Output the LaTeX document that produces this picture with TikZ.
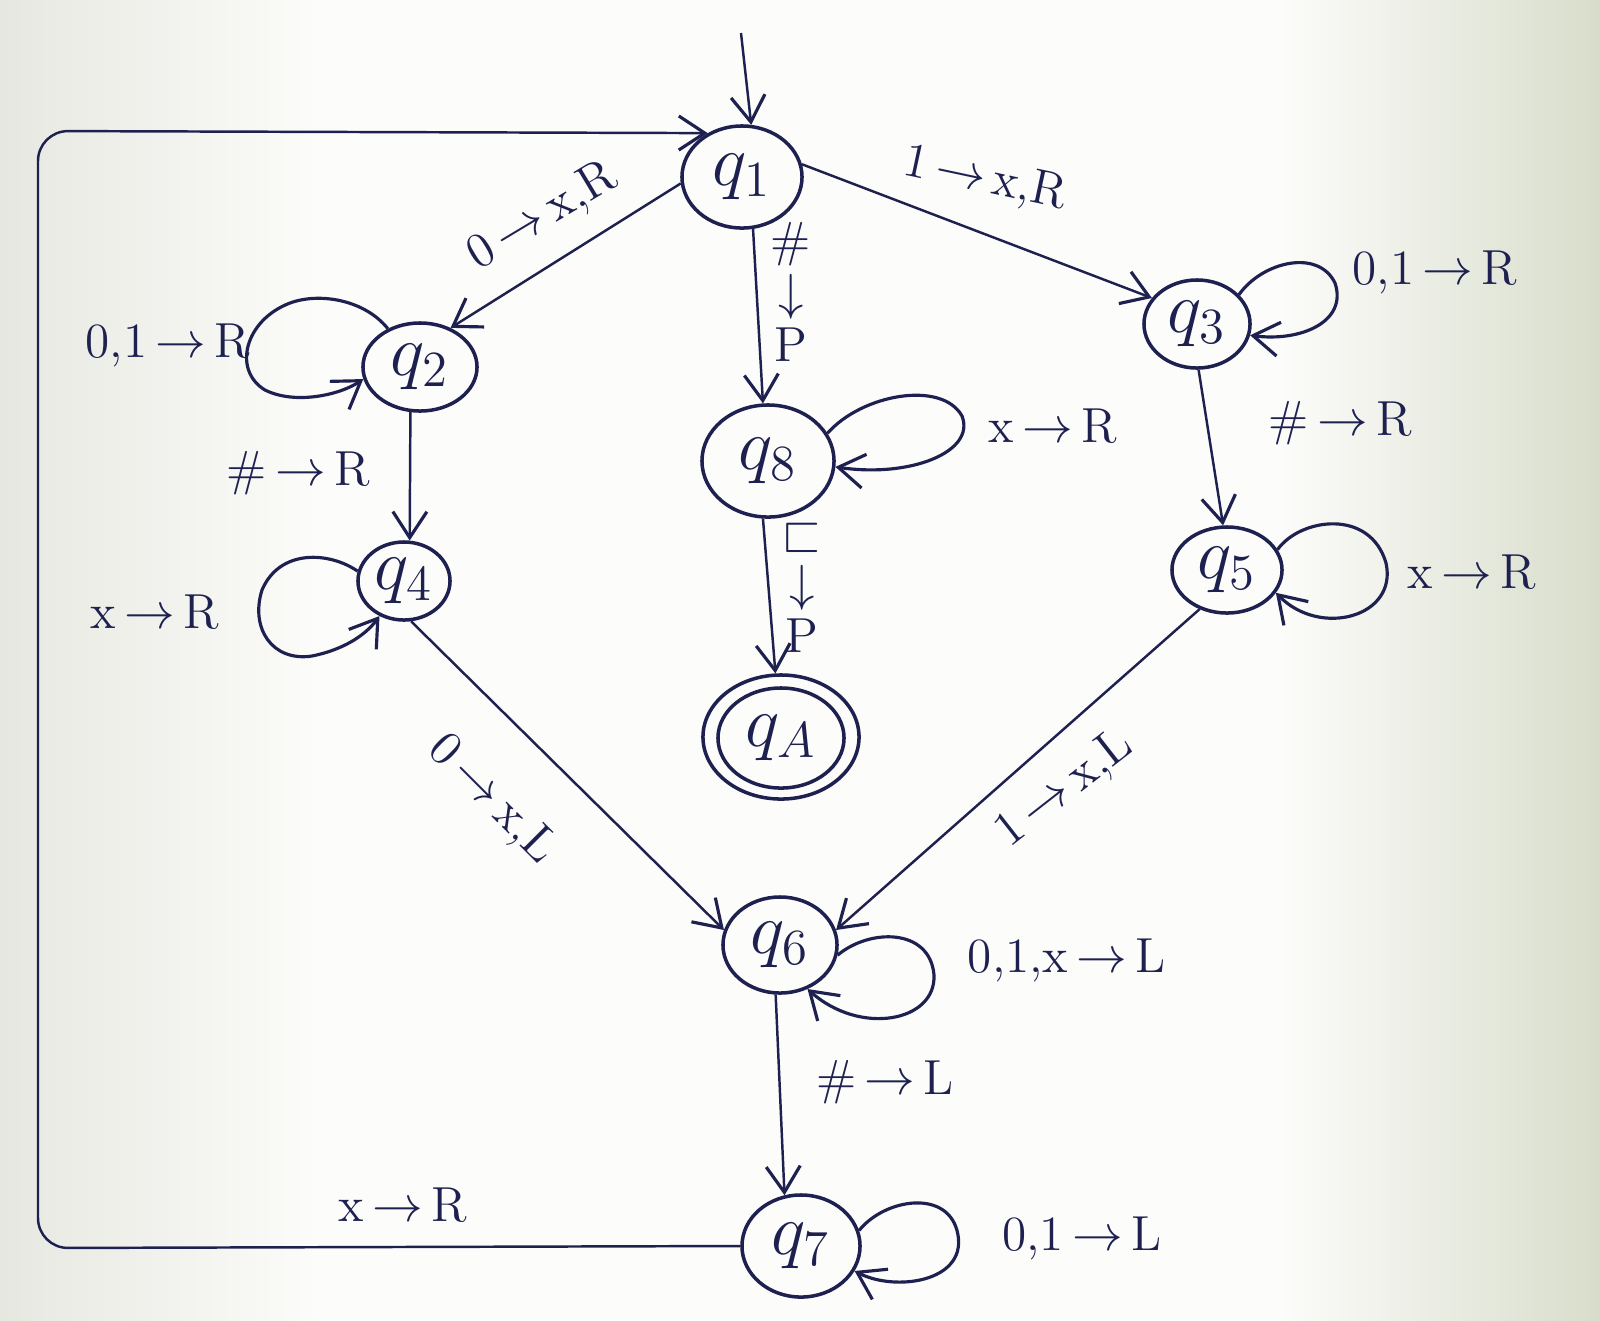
\documentclass[tikz,border=0pt]{standalone}
\usepackage{amssymb}
\usetikzlibrary{arrows.meta,shapes.geometric}
\definecolor{ink}{HTML}{1E2150}
\definecolor{paperL}{HTML}{E6E8E0}
\definecolor{paperM}{HTML}{FCFCFA}
\definecolor{paperR}{HTML}{D8DDCB}
\begin{document}
\begin{tikzpicture}[x=0.01cm,y=-0.01cm,
  state/.style={ellipse, draw=ink, line width=1pt, inner sep=0pt,
    font=\fontsize{20}{22}\selectfont, text=ink},
  edge/.style={draw=ink, line width=0.7pt,
    -{Straight Barb[length=2.6mm,width=3.4mm,line width=0.9pt]}},
  loopedge/.style={edge, line width=0.9pt},
  lab/.style={text=ink, font=\fontsize{14}{16}\selectfont, inner sep=1pt},
  stacklab/.style={text=ink, font=\fontsize{14}{13}\selectfont, inner sep=1pt, align=center}]

% paper: white in the middle, greyer towards both edges
\fill[paperM] (0,0) rectangle (1600,1320);
\shade[left color=paperL, right color=paperM] (0,0) rectangle (320,1320);
\shade[left color=paperM, right color=paperR] (1280,0) rectangle (1600,1320);
\useasboundingbox (0,0) rectangle (1600,1320);

% states
\node[state, minimum width=1.20cm, minimum height=1.02cm] (q1) at (742,177) {$q_1$};
\node[state, minimum width=1.14cm, minimum height=0.88cm] (q2) at (420,367) {$q_2$};
\node[state, minimum width=1.06cm, minimum height=0.88cm] (q3) at (1197,324) {$q_3$};
\node[state, minimum width=1.32cm, minimum height=1.12cm] (q8) at (768,461) {$q_8$};
\node[state, minimum width=0.92cm, minimum height=0.78cm] (q4) at (404,581) {$q_4$};
\node[state, minimum width=1.10cm, minimum height=0.86cm] (q5) at (1227,570) {$q_5$};
\node[state, minimum width=1.56cm, minimum height=1.24cm] (qA) at (781,737) {};
\node[state, minimum width=1.26cm, minimum height=1.00cm] (qAin) at (781,738) {$q_A$};
\node[state, minimum width=1.14cm, minimum height=0.96cm] (q6) at (780,945) {$q_6$};
\node[state, minimum width=1.18cm, minimum height=1.02cm] (q7) at (801,1246) {$q_7$};

% start arrow and the return path round the left
\coordinate (start) at (741,33);
\coordinate (bl) at (38,1248);
\coordinate (tl) at (38,131);
\draw[edge] (start) -- (q1.80);
\draw[edge, rounded corners=0.3cm] (q7.west) -- (bl) -- (tl) -- (q1.128);

% straight transitions
\draw[edge] (q1.186) -- (q2.52);
\draw[edge] (q1.12) -- (q3.150);
\draw[edge] (q1.-78) -- (q8.95);
\draw[edge] (q8.-95) -- (qA.95);
\draw[edge] (q2.-102) -- (q4.82);
\draw[edge] (q3.-88) -- (q5.95);
\draw[edge] (q4.-80) -- (q6.165);
\draw[edge] (q5.-125) -- (q6.15);
\draw[edge] (q6.-95) -- (q7.108);

% self loops
\draw[loopedge] (q2.130) .. controls (365,300) and (320,292) .. (290,303)
  .. controls (245,320) and (232,370) .. (265,390)
  .. controls (295,405) and (340,395) .. (q2.192);
\draw[loopedge] (q4.168) .. controls (330,552) and (280,548) .. (262,590)
  .. controls (250,628) and (272,662) .. (312,656)
  .. controls (342,650) and (365,636) .. (q4.235);
\draw[loopedge] (q3.35) .. controls (1262,262) and (1318,248) .. (1335,283)
  .. controls (1348,322) and (1300,342) .. (q3.-12);
\draw[loopedge] (q5.22) .. controls (1300,518) and (1370,508) .. (1386,563)
  .. controls (1398,617) and (1320,638) .. (q5.-25);
\draw[loopedge] (q8.25) .. controls (862,394) and (942,380) .. (962,416)
  .. controls (976,452) and (910,478) .. (q8.-5);
\draw[loopedge] (q6.-10) .. controls (870,928) and (930,928) .. (934,975)
  .. controls (936,1022) and (860,1036) .. (q6.-58);
\draw[loopedge] (q7.15) .. controls (885,1198) and (950,1188) .. (958,1235)
  .. controls (966,1282) and (895,1292) .. (q7.-25);

% transition labels
\node[lab, rotate=31] (l12) at (543,217) {0$\,\to\,$x,R};
\node[lab, rotate=-12] (l13) at (985,180) {1$\,\to\,$x,R};
\node[stacklab] (l18) at (791,292) {\#\\[2pt]$\downarrow$\\[2pt]P};
\node[stacklab] (l8A) at (802,588) {{\Large$\sqsubset$}\\[1pt]$\downarrow$\\[2pt]P};
\node[lab] (l22) at (168,345) {0,1$\,\to\,$R};
\node[lab] (l24) at (298,473) {\#$\,\to\,$R};
\node[lab] (l44) at (155,612) {x$\,\to\,$R};
\node[lab] (l33) at (1435,272) {0,1$\,\to\,$R};
\node[lab] (l35) at (1340,423) {\#$\,\to\,$R};
\node[lab] (l55) at (1472,572) {x$\,\to\,$R};
\node[lab] (l88) at (1053,426) {x$\,\to\,$R};
\node[lab, rotate=-45] (l46) at (492,800) {0$\,\to\,$x,L};
\node[lab, rotate=38] (l56) at (1065,790) {1$\,\to\,$x,L};
\node[lab] (l66) at (1067,960) {0,1,x$\,\to\,$L};
\node[lab] (l67) at (885,1082) {\#$\,\to\,$L};
\node[lab] (l77) at (1082,1238) {0,1$\,\to\,$L};
\node[lab] (l71) at (403,1205) {x$\,\to\,$R};
\end{tikzpicture}
\end{document}
